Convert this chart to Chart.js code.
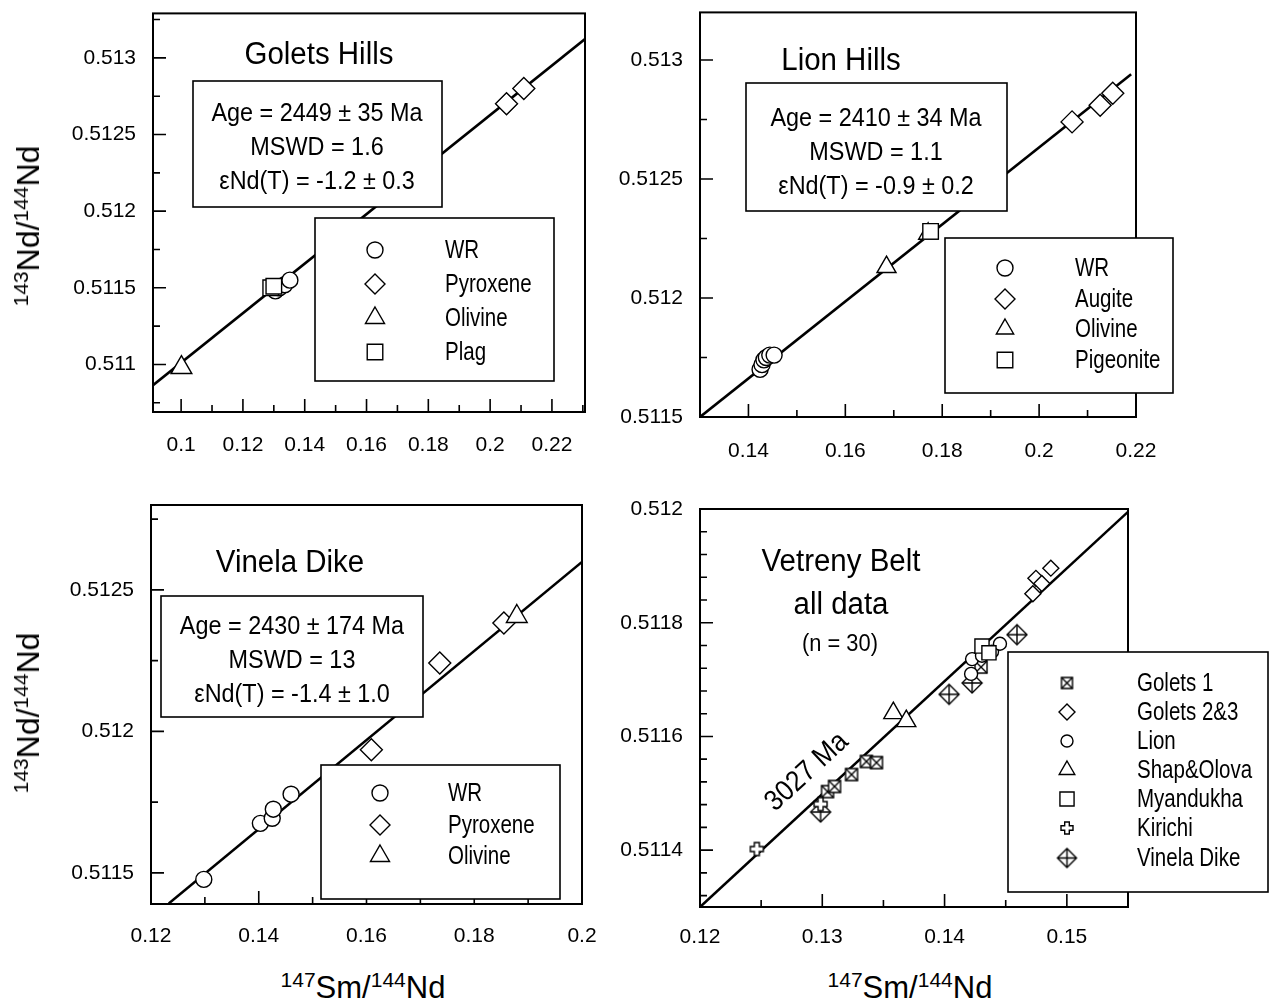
<!DOCTYPE html>
<html>
<head>
<meta charset="utf-8">
<script src="https://cdn.jsdelivr.net/npm/chart.js@4.4.0/dist/chart.umd.min.js"></script>
<style>
body { margin: 0; background: #fff; width: 1270px; height: 1006px; position: relative; overflow: hidden; font-family: 'Liberation Sans', Arial, sans-serif; }
.panel { position: absolute; }
.yt, .xt { position: absolute; font-size: 31px; line-height: 1; white-space: nowrap; color: #000; }
.yt { font-size: 32px; transform: translate(-50%, -50%) rotate(-90deg); }
.xt { transform: translate(-50%, -50%); }
.yt sup, .xt sup { font-size: 21px; vertical-align: baseline; position: relative; top: -11px; }
</style>
</head>
<body>
<div class="panel" style="left:0;top:0"><canvas id="c1" width="600" height="470"></canvas></div>
<div class="panel" style="left:600px;top:0"><canvas id="c2" width="670" height="470"></canvas></div>
<div class="panel" style="left:0;top:480px"><canvas id="c3" width="620" height="480"></canvas></div>
<div class="panel" style="left:605px;top:480px"><canvas id="c4" width="665" height="480"></canvas></div>
<div class="yt" style="left:28px;top:226px"><sup>143</sup>Nd/<sup>144</sup>Nd</div>
<div class="yt" style="left:28px;top:713px"><sup>143</sup>Nd/<sup>144</sup>Nd</div>
<div class="xt" style="left:363px;top:987px"><sup>147</sup>Sm/<sup>144</sup>Nd</div>
<div class="xt" style="left:910px;top:987px"><sup>147</sup>Sm/<sup>144</sup>Nd</div>
<script>
// Golets Hills
var ghWrX = [0.1305, 0.1318, 0.1335, 0.1352];
var ghWrY = [0.51148, 0.51150, 0.51152, 0.51155];
var ghPyxX = [0.2053, 0.2109];
var ghPyxY = [0.51270, 0.51280];
var ghOlX = [0.1001];
var ghOlY = [0.51098];
var ghPlagX = [0.1290, 0.1300];
var ghPlagY = [0.51150, 0.51151];
var ghLineX = [0.0909, 0.2307];
var ghLineY = [0.510865, 0.513123];

// Lion Hills
var lhWrX = [0.1424, 0.1428, 0.1432, 0.1437, 0.1444, 0.1453];
var lhWrY = [0.51170, 0.51172, 0.51174, 0.51175, 0.51176, 0.51176];
var lhAugX = [0.2068, 0.2126, 0.2152];
var lhAugY = [0.51274, 0.51281, 0.51286];
var lhOlX = [0.1685, 0.1771];
var lhOlY = [0.51213, 0.51227];
var lhPigX = [0.1776];
var lhPigY = [0.51228];
var lhLineX = [0.13, 0.2190];
var lhLineY = [0.5115, 0.51294];

// Vinela Dike
var vdWrX = [0.1298, 0.1403, 0.1425, 0.1427, 0.1460];
var vdWrY = [0.511477, 0.511675, 0.511693, 0.511725, 0.511778];
var vdPyxX = [0.1609, 0.1736, 0.1855];
var vdPyxY = [0.511935, 0.512242, 0.512383];
var vdOlX = [0.1879];
var vdOlY = [0.512406];
var vdLineX = [0.1233, 0.2];
var vdLineY = [0.511392, 0.512599];

// Vetreny Belt, all data
var vbG1X = [0.13043, 0.13100, 0.13239, 0.13361, 0.13443, 0.14298];
var vbG1Y = [0.511503, 0.511512, 0.511533, 0.511556, 0.511554, 0.511722];
var vbG23X = [0.14722, 0.14747, 0.14795, 0.14869];
var vbG23Y = [0.511851, 0.511878, 0.511869, 0.511896];
var vbLionX = [0.14217, 0.14225, 0.14306, 0.14388, 0.14453];
var vbLionY = [0.511710, 0.511736, 0.511742, 0.511749, 0.511763];
var vbShapX = [0.13581, 0.13687];
var vbShapY = [0.511641, 0.511627];
var vbMyaX = [0.14306, 0.14363];
var vbMyaY = [0.511759, 0.511747];
var vbKirX = [0.12465, 0.12986];
var vbKirY = [0.511402, 0.511481];
var vbVinX = [0.12986, 0.14037, 0.14225, 0.14592];
var vbVinY = [0.511467, 0.511674, 0.511694, 0.511779];
var vbLineX = [0.12, 0.155];
var vbLineY = [0.5113, 0.511995];

// ticks
var x1Ticks = [0.1, 0.12, 0.14, 0.16, 0.18, 0.2, 0.22];
var x1Labels = ['0.1', '0.12', '0.14', '0.16', '0.18', '0.2', '0.22'];
var y1Ticks = [0.511, 0.5115, 0.512, 0.5125, 0.513];
var y1Labels = ['0.511', '0.5115', '0.512', '0.5125', '0.513'];
var x2Ticks = [0.14, 0.16, 0.18, 0.2, 0.22];
var x2Labels = ['0.14', '0.16', '0.18', '0.2', '0.22'];
var y2Ticks = [0.5115, 0.512, 0.5125, 0.513];
var y2Labels = ['0.5115', '0.512', '0.5125', '0.513'];
var x3Ticks = [0.12, 0.14, 0.16, 0.18, 0.2];
var x3Labels = ['0.12', '0.14', '0.16', '0.18', '0.2'];
var y3Ticks = [0.5115, 0.512, 0.5125];
var y3Labels = ['0.5115', '0.512', '0.5125'];
var x4Ticks = [0.12, 0.13, 0.14, 0.15];
var x4Labels = ['0.12', '0.13', '0.14', '0.15'];
var y4Ticks = [0.5114, 0.5116, 0.5118, 0.512];
var y4Labels = ['0.5114', '0.5116', '0.5118', '0.512'];

var REG = "'Liberation Sans', Arial, sans-serif";

function pts(xs, ys) {
    return xs.map(function (x, i) { return { x: x, y: ys[i] }; });
}

// open markers that chart.js has no built-in style for
function marker(kind, size) {
    var c = document.createElement('canvas');
    c.width = size + 4;
    c.height = size + 4;
    var g = c.getContext('2d');
    var m = c.width / 2, h = size / 2;
    g.lineWidth = 1.4;
    g.strokeStyle = '#000';
    g.fillStyle = '#fff';
    g.beginPath();
    if (kind === 'xsquare') {
        g.rect(m - h, m - h, size, size);
        g.fill(); g.stroke();
        g.beginPath();
        g.moveTo(m - h, m - h); g.lineTo(m + h, m + h);
        g.moveTo(m + h, m - h); g.lineTo(m - h, m + h);
        g.stroke();
    } else if (kind === 'plusdiamond') {
        g.moveTo(m, m - h); g.lineTo(m + h, m); g.lineTo(m, m + h); g.lineTo(m - h, m); g.closePath();
        g.fill(); g.stroke();
        g.beginPath();
        g.moveTo(m, m - h); g.lineTo(m, m + h);
        g.moveTo(m - h, m); g.lineTo(m + h, m);
        g.stroke();
    } else if (kind === 'openplus') {
        var a = h / 2.6;
        g.moveTo(m - a, m - h); g.lineTo(m + a, m - h); g.lineTo(m + a, m - a); g.lineTo(m + h, m - a);
        g.lineTo(m + h, m + a); g.lineTo(m + a, m + a); g.lineTo(m + a, m + h); g.lineTo(m - a, m + h);
        g.lineTo(m - a, m + a); g.lineTo(m - h, m + a); g.lineTo(m - h, m - a); g.lineTo(m - a, m - a);
        g.closePath();
        g.fill(); g.stroke();
    }
    return c;
}

function series(data, style, r) {
    return {
        type: 'scatter', data: data, pointStyle: style, pointRadius: r, pointHoverRadius: r,
        backgroundColor: '#fff', borderColor: '#000', borderWidth: 1.4, order: 1
    };
}

function isoLine(xs, ys) {
    return {
        type: 'line', data: pts(xs, ys), borderColor: '#000', borderWidth: 2.6,
        pointRadius: 0, fill: false, order: 5
    };
}

function minorValues(min, max, step, majors) {
    var out = [];
    var start = Math.ceil(min / step - 1e-6);
    for (var k = start; k * step <= max + 1e-9; k++) {
        var v = k * step;
        var isMajor = majors.some(function (t) { return Math.abs(t - v) < step / 10; });
        if (!isMajor) out.push(v);
    }
    return out;
}

// condensed look: squeeze text horizontally
function narrowText(ctx, s, x, y, sx) {
    ctx.save();
    ctx.translate(x, y);
    ctx.scale(sx, 1);
    ctx.fillText(s, 0, 0);
    ctx.restore();
}

function makeDecor(spec) {
    return {
        id: 'decor',
        afterDatasetsDraw: function (chart) {
            var ctx = chart.ctx, a = chart.chartArea;
            var xs = chart.scales.x, ys = chart.scales.y;
            ctx.save();
            ctx.strokeStyle = '#000';
            // inward ticks
            ctx.lineWidth = 1.6;
            ctx.beginPath();
            spec.xTicks.forEach(function (v) { var p = xs.getPixelForValue(v); ctx.moveTo(p, a.bottom); ctx.lineTo(p, a.bottom - 13); });
            minorValues(xs.min, xs.max, spec.xMinor, spec.xTicks).forEach(function (v) { var p = xs.getPixelForValue(v); ctx.moveTo(p, a.bottom); ctx.lineTo(p, a.bottom - 7); });
            spec.yTicks.forEach(function (v) { var p = ys.getPixelForValue(v); ctx.moveTo(a.left, p); ctx.lineTo(a.left + 13, p); });
            minorValues(ys.min, ys.max, spec.yMinor, spec.yTicks).forEach(function (v) { var p = ys.getPixelForValue(v); ctx.moveTo(a.left, p); ctx.lineTo(a.left + 7, p); });
            ctx.stroke();
            // frame
            ctx.lineWidth = 2;
            ctx.strokeRect(a.left, a.top, a.right - a.left, a.bottom - a.top);

            ctx.fillStyle = '#000';
            ctx.textBaseline = 'alphabetic';
            ctx.textAlign = 'center';
            spec.titles.forEach(function (t) {
                ctx.font = t.size + 'px ' + REG;
                narrowText(ctx, t.text, t.x, t.y, 0.95);
            });
            if (spec.stats) {
                var b = spec.stats;
                ctx.fillStyle = '#fff';
                ctx.fillRect(b.x, b.y, b.w, b.h);
                ctx.lineWidth = 1.6;
                ctx.strokeRect(b.x, b.y, b.w, b.h);
                ctx.fillStyle = '#000';
                ctx.font = '26px ' + REG;
                b.lines.forEach(function (s, i) { narrowText(ctx, s, b.cx, b.base[i], 0.9); });
            }
            if (spec.slopeLabel) {
                var sl = spec.slopeLabel;
                var p0x = xs.getPixelForValue(sl.lx[0]), p0y = ys.getPixelForValue(sl.ly[0]);
                var p1x = xs.getPixelForValue(sl.lx[1]), p1y = ys.getPixelForValue(sl.ly[1]);
                ctx.save();
                ctx.translate(sl.x, sl.y);
                ctx.rotate(Math.atan2(p1y - p0y, p1x - p0x));
                ctx.font = '29px ' + REG;
                ctx.textBaseline = 'middle';
                ctx.scale(0.9, 1);
                ctx.fillText(sl.text, 0, 0);
                ctx.restore();
            }
            var L = spec.legend;
            ctx.fillStyle = '#fff';
            ctx.fillRect(L.x, L.y, L.w, L.h);
            ctx.lineWidth = 1.6;
            ctx.strokeRect(L.x, L.y, L.w, L.h);
            ctx.font = '25px ' + REG;
            ctx.textAlign = 'left';
            ctx.textBaseline = 'middle';
            L.rows.forEach(function (r, i) {
                var y = L.rowY[i];
                ctx.fillStyle = '#fff';
                ctx.strokeStyle = '#000';
                ctx.lineWidth = 1.4;
                Chart.helpers.drawPoint(ctx, { pointStyle: r.style, radius: r.r, rotation: 0, borderWidth: 1.4 }, L.symX, y);
                ctx.fillStyle = '#000';
                narrowText(ctx, r.label, L.labX, y + 1, 0.82);
            });
            ctx.restore();
        }
    };
}

function build(id, spec, datasets) {
    var cv = document.getElementById(id);
    var W = cv.width, H = cv.height, A = spec.area;
    return new Chart(cv, {
        type: 'scatter',
        data: { datasets: datasets },
        options: {
            animation: false, responsive: false, maintainAspectRatio: false, devicePixelRatio: 1,
            layout: { padding: { left: 0, top: A.t, right: W - A.r, bottom: 0 } },
            plugins: { legend: { display: false }, tooltip: { enabled: false } },
            scales: {
                x: {
                    type: 'linear', min: spec.xMin, max: spec.xMax,
                    grid: { display: false, drawTicks: false }, border: { display: false },
                    ticks: {
                        color: '#000', padding: spec.xPad, maxRotation: 0, autoSkip: false,
                        font: { family: REG, size: 21 },
                        callback: function (v, i) { return spec.xLabels[i]; }
                    },
                    afterBuildTicks: function (s) { s.ticks = spec.xTicks.map(function (v) { return { value: v }; }); },
                    afterFit: function (s) { s.height = H - A.b; s.paddingLeft = 0; s.paddingRight = 0; }
                },
                y: {
                    type: 'linear', min: spec.yMin, max: spec.yMax,
                    grid: { display: false, drawTicks: false }, border: { display: false },
                    ticks: {
                        color: '#000', padding: 17, autoSkip: false,
                        font: { family: REG, size: 21 },
                        callback: function (v, i) { return spec.yLabels[i]; }
                    },
                    afterBuildTicks: function (s) { s.ticks = spec.yTicks.map(function (v) { return { value: v }; }); },
                    afterFit: function (s) { s.width = A.l; s.paddingTop = 0; s.paddingBottom = 0; }
                }
            }
        },
        plugins: [makeDecor(spec)]
    });
}

var xSq = marker('xsquare', 12);
var xSqSmall = marker('xsquare', 11);
var plusDia = marker('plusdiamond', 20);
var plusDiaSmall = marker('plusdiamond', 19);
var openPlus = marker('openplus', 13);
var openPlusSmall = marker('openplus', 12);

build('c1', {
    area: { l: 153, t: 9, r: 585, b: 412 },
    xMin: 0.0909, xMax: 0.2307, yMin: 0.51069, yMax: 0.51329,
    xTicks: x1Ticks, xLabels: x1Labels, yTicks: y1Ticks, yLabels: y1Labels,
    xMinor: 0.01, yMinor: 0.00025, xPad: 21,
    titles: [{ text: 'Golets Hills', x: 319, y: 64, size: 31 }],
    stats: { x: 193, y: 81, w: 249, h: 126, cx: 317, base: [121, 155, 189],
        lines: ['Age = 2449 \u00b1 35 Ma', 'MSWD = 1.6', '\u03b5Nd(T) = -1.2 \u00b1 0.3'] },
    legend: { x: 315, y: 218, w: 239, h: 163, symX: 375, labX: 445, rowY: [250, 284, 318, 352],
        rows: [{ label: 'WR', style: 'circle', r: 8 }, { label: 'Pyroxene', style: 'rectRot', r: 10 },
            { label: 'Olivine', style: 'triangle', r: 11 }, { label: 'Plag', style: 'rect', r: 11 }] }
}, [
    series(pts(ghOlX, ghOlY), 'triangle', 12),
    series(pts(ghPlagX, ghPlagY), 'rect', 11),
    series(pts(ghWrX, ghWrY), 'circle', 8),
    series(pts(ghPyxX, ghPyxY), 'rectRot', 11),
    isoLine(ghLineX, ghLineY)
]);

build('c2', {
    area: { l: 100, t: 12, r: 536, b: 417 },
    xMin: 0.13, xMax: 0.22, yMin: 0.5115, yMax: 0.5132,
    xTicks: x2Ticks, xLabels: x2Labels, yTicks: y2Ticks, yLabels: y2Labels,
    xMinor: 0.01, yMinor: 0.00025, xPad: 22,
    titles: [{ text: 'Lion Hills', x: 241, y: 70, size: 31 }],
    stats: { x: 146, y: 83, w: 261, h: 128, cx: 276, base: [126, 160, 194],
        lines: ['Age = 2410 \u00b1 34 Ma', 'MSWD = 1.1', '\u03b5Nd(T) = -0.9 \u00b1 0.2'] },
    legend: { x: 345, y: 238, w: 228, h: 155, symX: 405, labX: 475, rowY: [268, 299, 329, 360],
        rows: [{ label: 'WR', style: 'circle', r: 8 }, { label: 'Augite', style: 'rectRot', r: 10 },
            { label: 'Olivine', style: 'triangle', r: 10 }, { label: 'Pigeonite', style: 'rect', r: 11 }] }
}, [
    series(pts(lhPigX, lhPigY), 'rect', 11),
    series(pts(lhOlX, lhOlY), 'triangle', 11),
    series(pts(lhWrX, lhWrY), 'circle', 8),
    series(pts(lhAugX, lhAugY), 'rectRot', 11),
    isoLine(lhLineX, lhLineY)
]);

build('c3', {
    area: { l: 151, t: 25, r: 582, b: 424 },
    xMin: 0.12, xMax: 0.2, yMin: 0.51139, yMax: 0.5128,
    xTicks: x3Ticks, xLabels: x3Labels, yTicks: y3Ticks, yLabels: y3Labels,
    xMinor: 0.01, yMinor: 0.00025, xPad: 20,
    titles: [{ text: 'Vinela Dike', x: 290, y: 92, size: 31 }],
    stats: { x: 161, y: 116, w: 262, h: 121, cx: 292, base: [154, 188, 222],
        lines: ['Age = 2430 \u00b1 174 Ma', 'MSWD = 13', '\u03b5Nd(T) = -1.4 \u00b1 1.0'] },
    legend: { x: 321, y: 285, w: 239, h: 134, symX: 380, labX: 448, rowY: [313, 345, 376],
        rows: [{ label: 'WR', style: 'circle', r: 8 }, { label: 'Pyroxene', style: 'rectRot', r: 10 },
            { label: 'Olivine', style: 'triangle', r: 11 }] }
}, [
    series(pts(vdOlX, vdOlY), 'triangle', 12),
    series(pts(vdWrX, vdWrY), 'circle', 8),
    series(pts(vdPyxX, vdPyxY), 'rectRot', 11),
    isoLine(vdLineX, vdLineY)
]);

build('c4', {
    area: { l: 95, t: 29, r: 523, b: 427 },
    xMin: 0.12, xMax: 0.155, yMin: 0.5113, yMax: 0.512,
    xTicks: x4Ticks, xLabels: x4Labels, yTicks: y4Ticks, yLabels: y4Labels,
    xMinor: 0.005, yMinor: 0.00004, xPad: 18,
    titles: [{ text: 'Vetreny Belt', x: 236, y: 91, size: 31 },
        { text: 'all data', x: 236, y: 134, size: 31 },
        { text: '(n = 30)', x: 235, y: 171, size: 23 }],
    slopeLabel: { text: '3027 Ma', x: 202, y: 292, lx: vbLineX, ly: vbLineY },
    legend: { x: 403, y: 172, w: 260, h: 240, symX: 462, labX: 532, rowY: [203, 232, 261, 290, 319, 348, 378],
        rows: [{ label: 'Golets 1', style: xSqSmall, r: 6 }, { label: 'Golets 2&3', style: 'rectRot', r: 8 },
            { label: 'Lion', style: 'circle', r: 6 }, { label: 'Shap&Olova', style: 'triangle', r: 9 },
            { label: 'Myandukha', style: 'rect', r: 10 }, { label: 'Kirichi', style: openPlusSmall, r: 6 },
            { label: 'Vinela Dike', style: plusDiaSmall, r: 9 }] }
}, [
    series(pts(vbKirX, vbKirY), openPlus, 7),
    series(pts(vbMyaX, vbMyaY), 'rect', 10),
    series(pts(vbLionX, vbLionY), 'circle', 6.5),
    series(pts(vbShapX, vbShapY), 'triangle', 11),
    series(pts(vbG23X, vbG23Y), 'rectRot', 8),
    series(pts(vbG1X, vbG1Y), xSq, 7),
    series(pts(vbVinX, vbVinY), plusDia, 10),
    isoLine(vbLineX, vbLineY)
]);
</script>
</body>
</html>
